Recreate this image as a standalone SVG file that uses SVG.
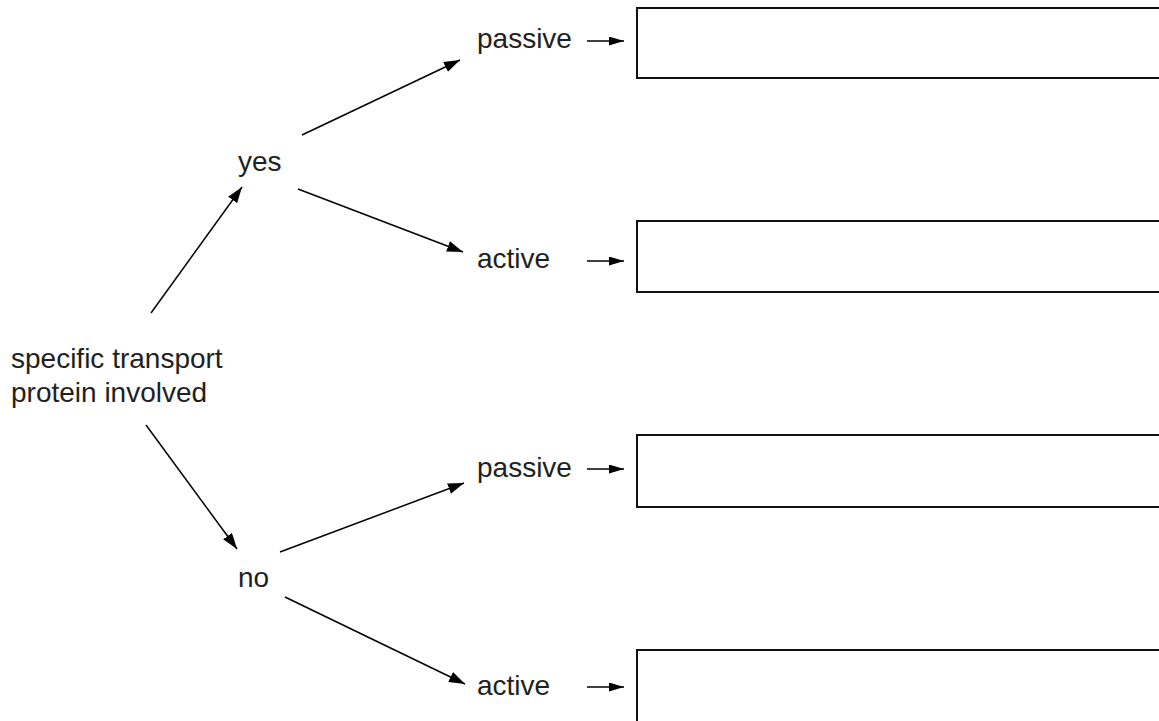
<svg xmlns="http://www.w3.org/2000/svg" width="1159" height="721" viewBox="0 0 1159 721">
<defs>
<style>
text{font-family:"Liberation Sans",Arial,Helvetica,sans-serif;font-size:28px;fill:#231f20}
.ln{stroke:#000;stroke-width:1.5;fill:none}
.bx{fill:#fff;stroke:#111;stroke-width:2}
</style>
<marker id="ah" markerUnits="userSpaceOnUse" markerWidth="17" markerHeight="11" refX="16" refY="5.5" orient="auto">
<path d="M0,0 L16,5.5 L0,11 z" fill="#000"/>
</marker>
<marker id="sh" markerUnits="userSpaceOnUse" markerWidth="15" markerHeight="9" refX="15" refY="4.5" orient="auto">
<path d="M0,0 L15,4.5 L0,9 z" fill="#000"/>
</marker>
</defs>
<rect width="1159" height="721" fill="#fff"/>
<g id="connectors">
<line class="ln" x1="151" y1="313" x2="242" y2="187" marker-end="url(#ah)"/>
<line class="ln" x1="302" y1="135" x2="460" y2="60" marker-end="url(#ah)"/>
<line class="ln" x1="298" y1="189" x2="463" y2="252" marker-end="url(#ah)"/>
<line class="ln" x1="146" y1="425" x2="237" y2="549" marker-end="url(#ah)"/>
<line class="ln" x1="280" y1="552" x2="464" y2="483" marker-end="url(#ah)"/>
<line class="ln" x1="285" y1="597" x2="465" y2="684" marker-end="url(#ah)"/>
<line class="ln" x1="587" y1="41" x2="624" y2="41" marker-end="url(#sh)"/>
<line class="ln" x1="587" y1="261" x2="624" y2="261" marker-end="url(#sh)"/>
<line class="ln" x1="587" y1="469" x2="624" y2="469" marker-end="url(#sh)"/>
<line class="ln" x1="587" y1="687" x2="624" y2="687" marker-end="url(#sh)"/>
</g>
<g id="start"><text x="11" y="368">specific transport</text><text x="11" y="402">protein involved</text></g>
<g id="yes"><text x="238" y="171">yes</text></g>
<g id="no"><text x="238" y="587">no</text></g>
<g id="passive1"><text x="477" y="48">passive</text></g>
<g id="active1"><text x="477" y="268">active</text></g>
<g id="passive2"><text x="477" y="477">passive</text></g>
<g id="active2"><text x="477" y="695">active</text></g>
<g id="box1"><rect class="bx" x="637" y="8" width="540" height="70"/></g>
<g id="box2"><rect class="bx" x="637" y="221" width="540" height="71"/></g>
<g id="box3"><rect class="bx" x="637" y="435" width="540" height="72"/></g>
<g id="box4"><rect class="bx" x="637" y="650" width="540" height="80"/></g>
</svg>
